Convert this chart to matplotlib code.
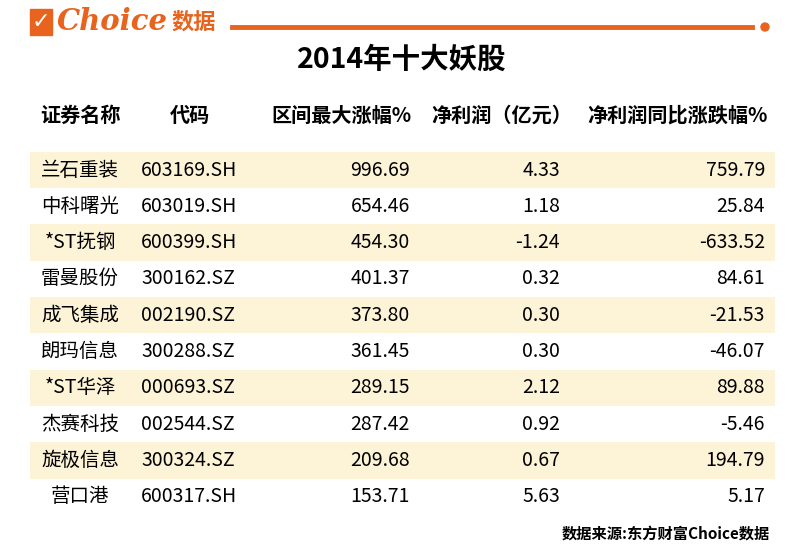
import matplotlib
matplotlib.use("Agg")
import matplotlib.pyplot as plt
from matplotlib.patches import Rectangle, Circle

plt.rcParams['font.family'] = ['Noto Sans CJK SC', 'DejaVu Sans']

names = ["兰石重装", "中科曙光", "*ST抚钢", "雷曼股份", "成飞集成",
         "朗玛信息", "*ST华泽", "杰赛科技", "旋极信息", "营口港"]
codes = ["603169.SH", "603019.SH", "600399.SH", "300162.SZ", "002190.SZ",
         "300288.SZ", "000693.SZ", "002544.SZ", "300324.SZ", "600317.SH"]
max_rise = [996.69, 654.46, 454.30, 401.37, 373.80, 361.45, 289.15, 287.42, 209.68, 153.71]
net_profit = [4.33, 1.18, -1.24, 0.32, 0.30, 0.30, 2.12, 0.92, 0.67, 5.63]
profit_yoy = [759.79, 25.84, -633.52, 84.61, -21.53, -46.07, 89.88, -5.46, 194.79, 5.17]
headers = ["证券名称", "代码", "区间最大涨幅%", "净利润（亿元）", "净利润同比涨跌幅%"]

orange = "#E8641E"
fig = plt.figure(figsize=(8.04, 5.54), dpi=100)
ax = fig.add_axes([0, 0, 1, 1])
ax.set_xlim(0, 804)
ax.set_ylim(554, 0)
ax.axis("off")

# logo
ax.add_patch(Rectangle((30, 9), 22, 26, color=orange))
ax.text(41, 22, "✓", color="white", fontsize=16, ha="center", va="center",
        fontweight="bold", family=["DejaVu Sans"])
ax.text(57, 22, "Choice", color=orange, fontsize=21, fontweight="bold",
        fontstyle="italic", va="center", family=["DejaVu Serif"])
ax.text(172, 22, "数据", color=orange, fontsize=16, fontweight="bold", va="center")
ax.plot([232, 752], [27, 27], color=orange, lw=3.5)
ax.add_patch(Circle((765, 27), 4, color=orange))

ax.text(402, 60, "2014年十大妖股", fontsize=20.5, fontweight="bold", ha="center", va="center")

hy = 115
hkw = dict(fontsize=14.5, fontweight="bold", va="center")
ax.text(80, hy, headers[0], ha="center", **hkw)
ax.text(190, hy, headers[1], ha="center", **hkw)
ax.text(412, hy, headers[2], ha="right", **hkw)
ax.text(572, hy, headers[3], ha="right", **hkw)
ax.text(768, hy, headers[4], ha="right", **hkw)

y0, dy = 170, 36.3
for i in range(len(names)):
    y = y0 + i * dy
    if i % 2 == 0:
        ax.add_patch(Rectangle((30, y - dy / 2), 745, dy, color="#FDF3D6", lw=0))
    kw = dict(fontsize=14, va="center")
    ax.text(80, y, names[i], ha="center", **kw)
    ax.text(141, y, codes[i], ha="left", **kw)
    ax.text(410, y, f"{max_rise[i]:.2f}", ha="right", **kw)
    ax.text(560, y, f"{net_profit[i]:.2f}", ha="right", **kw)
    ax.text(765, y, f"{profit_yoy[i]:.2f}", ha="right", **kw)

ax.text(770, 534, "数据来源:东方财富Choice数据", fontsize=11, fontweight="bold",
        ha="right", va="center")

fig.savefig("out.png", dpi=100)
